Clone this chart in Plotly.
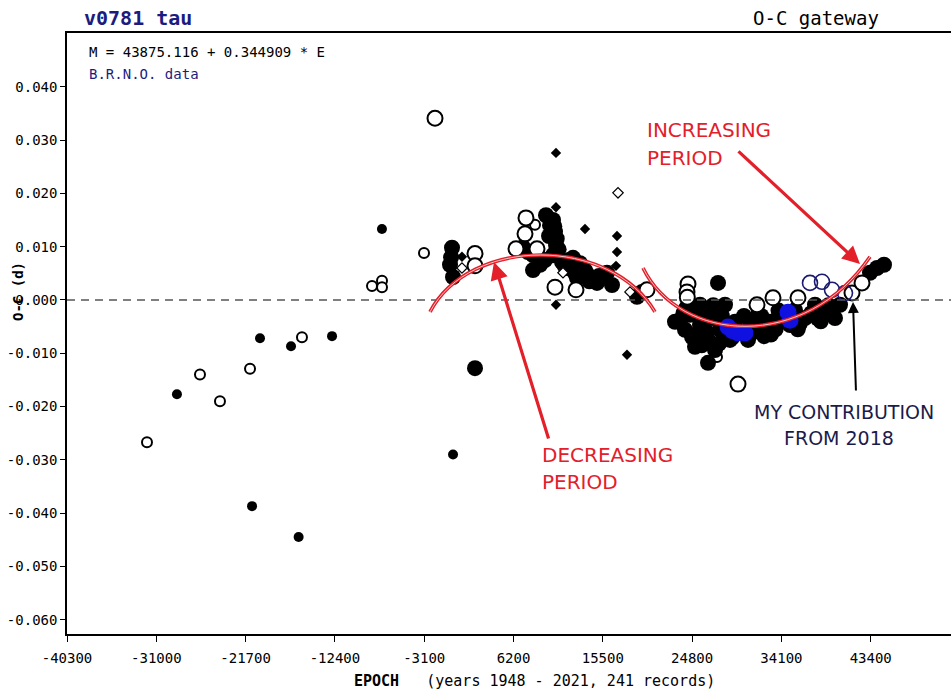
import plotly.graph_objects as go

# ---------------- data (epoch, O-C in days) ----------------
small_filled_epoch = [-28850, -20200, -16970, -12700, -21030, -16180, -7500, -100]
small_filled_oc = [-0.0177, -0.0072, -0.0087, -0.0068, -0.0387, -0.0445, 0.0133, -0.0290]

small_open_epoch = [-31970, -26450, -24370, -21240, -15830, -8537, -7496, -7496, -3122, 8437, 11353, 27392]
small_open_oc = [-0.0267, -0.0140, -0.0190, -0.0129, -0.0070, 0.0026, 0.0036, 0.0024, 0.0088, 0.0141, 0.0062, -0.0107]

big_filled_epoch = [
    -205, -414, -100, -300, 2189,
    9583, 10312, 10520, 10624, 10312, 9479, 8229, 7188, 8229, 8958, 11249, 12395, 13124,
    13645, 12812, 14374, 14895, 15936, 16457, 10000, 10700, 10900, 7700, 11800, 13900, 15400,
    9900, 10450, 10600, 12000, 12600, 13400, 14100, 15100,
    19060, 19581,
    27496, 23538, 24579, 25621, 26870, 25100, 26454, 27704, 27183, 26454, 25621, 28225,
    29266, 30620, 31870, 31661, 32911, 34160, 35514, 34994, 36556, 37597, 38638, 39680,
    40200, 24058, 23017, 28745, 26000, 27000, 28000, 29800, 31000, 32300, 33500, 30200,
    33800, 36000, 37200, 38200, 39000, 24800, 25800, 27600, 24200, 35800, 25100,
    23900, 26300, 27900, 29000, 30900, 32000, 33000, 35000, 37900, 39400,
    43324, 44053, 44782,
]
big_filled_oc = [
    0.0098, 0.0066, 0.0043, 0.0080, -0.0128,
    0.0159, 0.0150, 0.0128, 0.0103, 0.0084, 0.0075, 0.0084, 0.0099, 0.0056, 0.0066, 0.0071, 0.0079, 0.0069,
    0.0056, 0.0041, 0.0041, 0.0032, 0.0051, 0.0028, 0.0140, 0.0115, 0.0095, 0.0090, 0.0060, 0.0048, 0.0042,
    0.0120, 0.0138, 0.0090, 0.0075, 0.0050, 0.0062, 0.0035, 0.0045,
    0.0006, 0.0015,
    0.0032, -0.0038, -0.0028, -0.0047, -0.0034, -0.0066, -0.0075, -0.0056, -0.0094, -0.0118, -0.0009, -0.0009,
    -0.0041, -0.0075, -0.0056, -0.0028, -0.0041, -0.0034, -0.0019, -0.0047, -0.0034, -0.0009, -0.0019, -0.0034,
    -0.0009, -0.0056, -0.0041, -0.0075, -0.0020, -0.0010, -0.0050, -0.0060, -0.0062, -0.0068, -0.0055, -0.0030,
    -0.0020, -0.0045, -0.0025, -0.0040, -0.0010, -0.0070, -0.0085, -0.0082, -0.0015, -0.0055, -0.0088,
    -0.0025, -0.0060, -0.0030, -0.0070, -0.0045, -0.0030, -0.0065, -0.0030, -0.0035, -0.0025,
    0.0051, 0.0060, 0.0066,
]

big_open_epoch = [-1976, 2189, 2189, 7500, 7396, 6459, 8646, 10520, 12707, 20102, 24371, 24267, 24300,
                  29578, 33223, 31557, 35826, 41450, 42491]
big_open_oc = [0.0341, 0.0087, 0.0064, 0.0154, 0.0124, 0.0096, 0.0096, 0.0024, 0.0019, 0.0019, 0.0030, 0.0015, 0.0005,
               -0.0158, 0.0004, -0.0009, 0.0004, 0.0013, 0.0032]

blue_epoch = [28537, 29578, 30307, 29000, 34786, 34994]
blue_oc = [-0.0051, -0.0062, -0.0062, -0.0058, -0.0023, -0.0038]

navy_open_epoch = [37076, 38326, 39367, 40721]
navy_open_oc = [0.0032, 0.0034, 0.0019, 0.0013]

diamond_epoch = [10624, 10624, 13645, 16978, 16978, 16874, 10624, 18019, 833]
diamond_oc = [0.0276, 0.0174, 0.0133, 0.0120, 0.0090, 0.0064, -0.0009, -0.0103, 0.0081]

open_diamond_epoch = [17081, 18330, 833, 11353]
open_diamond_oc = [0.0201, 0.0015, 0.0060, 0.0051]

x_tick_vals = [-40300, -31000, -21700, -12400, -3100, 6200, 15500, 24800, 34100, 43400]
x_tick_text = ["-40300", "-31000", "-21700", "-12400", "-3100", "6200", "15500", "24800", "34100", "43400"]
y_tick_vals = [0.04, 0.03, 0.02, 0.01, 0.0, -0.01, -0.02, -0.03, -0.04, -0.05, -0.06]
y_tick_text = ["0.040", "0.030", "0.020", "0.010", "0.000", "-0.010", "-0.020", "-0.030", "-0.040", "-0.050", "-0.060"]

# ---------------- figure ----------------
W, H = 951, 691
ML, MR, MT, MB = 67, 0, 33, 57
PW, PH = W - ML - MR, H - MT - MB


def pxx(p):
    return (p - ML) / PW


def pyy(p):
    return (H - MB - p) / PH


fig = go.Figure()


def add(xs, ys, symbol, size, fill, line_color, line_width):
    fig.add_trace(go.Scatter(
        x=xs, y=ys, mode="markers", hoverinfo="skip", showlegend=False,
        marker=dict(symbol=symbol, size=size, color=fill,
                    line=dict(color=line_color, width=line_width)),
    ))


add(small_filled_epoch, small_filled_oc, "circle", 10, "black", "black", 0)
add(small_open_epoch, small_open_oc, "circle", 10, "white", "black", 2)
add(big_filled_epoch, big_filled_oc, "circle", 16, "black", "black", 0)
add(diamond_epoch, diamond_oc, "diamond", 8, "black", "black", 0)
add(open_diamond_epoch, open_diamond_oc, "diamond", 8, "white", "black", 1.2)
add(big_open_epoch, big_open_oc, "circle", 15, "white", "black", 2)
add(blue_epoch, blue_oc, "circle", 17, "#1010e0", "#1010e0", 0)
add(navy_open_epoch, navy_open_oc, "circle", 15, "rgba(255,255,255,0)", "#1a1a70", 1.6)

mono = "DejaVu Sans Mono"
red = "#e3202a"

fig.update_layout(
    width=W, height=H, autosize=False,
    margin=dict(l=ML, r=MR, t=MT, b=MB),
    paper_bgcolor="white", plot_bgcolor="white",
    font=dict(family=mono, size=14, color="black"),
    xaxis=dict(
        range=[-40300, 51760], showgrid=False, zeroline=False,
        showline=True, mirror=True, linecolor="black", linewidth=1.5,
        ticks="outside", ticklen=6, tickwidth=1.3, tickcolor="black",
        tickvals=x_tick_vals, ticktext=x_tick_text, ticklabelstandoff=4,
        tickfont=dict(family=mono, size=14, color="black"),
    ),
    yaxis=dict(
        range=[-0.0627, 0.0501], showgrid=False, zeroline=False,
        showline=True, linecolor="black", linewidth=1.5,
        ticks="outside", ticklen=5, tickwidth=1.3, tickcolor="black",
        tickvals=y_tick_vals, ticktext=y_tick_text,
        tickfont=dict(family=mono, size=14, color="black"),
    ),
)

# zero reference line
fig.add_shape(type="line", xref="paper", yref="y", x0=0, x1=1, y0=0, y1=0,
              line=dict(color="#555555", width=1.4, dash="8px,6px"))

# hand-drawn arcs (double red lines)
arcs = [
    "M -2497,-0.00225 C 1668,0.0120 16248,0.0120 20934,-0.00225",
    "M 19685,0.0060 C 23538,-0.0081 36556,-0.0098 43324,0.0081",
]
for p in arcs:
    fig.add_shape(type="path", xref="x", yref="y", path=p, line=dict(color=red, width=3.6))
    fig.add_shape(type="path", xref="x", yref="y", path=p, line=dict(color="#f6c4c4", width=1))

ann = []
# header texts
ann.append(dict(x=pxx(82), y=pyy(18), xref="paper", yref="paper", xanchor="left", yanchor="middle",
                text="<b>v0781 tau</b>", showarrow=False, font=dict(family=mono, size=20, color="#1c1c80")))
ann.append(dict(x=pxx(881), y=pyy(18), xref="paper", yref="paper", xanchor="right", yanchor="middle",
                text="O-C gateway", showarrow=False, font=dict(family=mono, size=19, color="black")))
ann.append(dict(x=pxx(87), y=pyy(52), xref="paper", yref="paper", xanchor="left", yanchor="middle",
                text="M = 43875.116 + 0.344909 * E", showarrow=False, font=dict(family=mono, size=14, color="black")))
ann.append(dict(x=pxx(87), y=pyy(74), xref="paper", yref="paper", xanchor="left", yanchor="middle",
                text="B.R.N.O. data", showarrow=False, font=dict(family=mono, size=14, color="#1c1c80")))
# axis titles
ann.append(dict(x=pxx(352), y=pyy(681), xref="paper", yref="paper", xanchor="left", yanchor="middle",
                text="<b>EPOCH</b>   (years 1948 - 2021, 241 records)", showarrow=False,
                font=dict(family=mono, size=15, color="black")))
ann.append(dict(x=pxx(18), y=pyy(292), xref="paper", yref="paper", xanchor="center", yanchor="middle",
                text="<b>O-C (d)</b>", textangle=-90, showarrow=False,
                font=dict(family=mono, size=14, color="black")))
# hand annotations
sans = "DejaVu Sans"
for txt, x, y, col, sz in [
    ("INCREASING", 645, 130, red, 20), ("PERIOD", 645, 158, red, 20),
    ("DECREASING", 540, 455, red, 20), ("PERIOD", 540, 482, red, 20),
    ("MY CONTRIBUTION", 752, 412, "#1b1b4b", 19), ("FROM 2018", 782, 438, "#1b1b4b", 19),
]:
    ann.append(dict(x=pxx(x), y=pyy(y), xref="paper", yref="paper", xanchor="left", yanchor="middle",
                    text=txt, showarrow=False, font=dict(family=sans, size=sz, color=col)))
# arrows
for hx, hy, tx, ty, col, w in [
    (860, 264, 737, 150, red, 3.2),
    (494, 262, 549, 440, red, 3.2),
    (853, 302, 856, 392, "black", 2),
]:
    ann.append(dict(x=pxx(hx), y=pyy(hy), xref="paper", yref="paper", ax=tx - hx, ay=ty - hy,
                    axref="pixel", ayref="pixel", text="", showarrow=True,
                    arrowhead=2, arrowsize=1.1, arrowwidth=w, arrowcolor=col, standoff=0))

fig.update_layout(annotations=ann)
fig.write_html("out.html", config={"displayModeBar": False},
               post_script="document.body.style.margin='0';document.body.style.overflow='hidden';")
